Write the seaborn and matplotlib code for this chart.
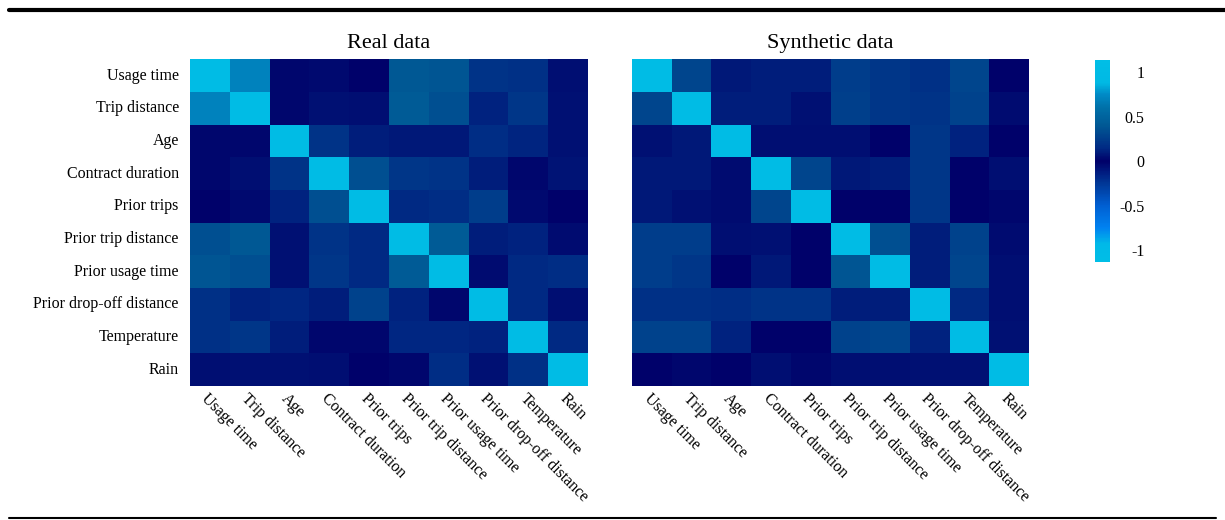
import numpy as np
import pandas as pd
import matplotlib
matplotlib.use("Agg")
import matplotlib.pyplot as plt
import seaborn as sns
from matplotlib.colors import LinearSegmentedColormap
from matplotlib.lines import Line2D

# variable names
features = ["Usage time", "Trip distance", "Age", "Contract duration", "Prior trips",
            "Prior trip distance", "Prior usage time", "Prior drop-off distance",
            "Temperature", "Rain"]

# correlation matrices
real_corr = [
    [1.00, 0.70, 0.02, 0.03, 0.00, 0.40, 0.38, 0.20, 0.18, 0.05],
    [0.70, 1.00, 0.02, 0.06, 0.05, 0.42, 0.35, 0.12, 0.22, 0.06],
    [0.02, 0.02, 1.00, 0.20, 0.10, 0.08, 0.08, 0.16, 0.13, 0.06],
    [0.02, 0.05, 0.20, 1.00, 0.35, 0.22, 0.20, 0.10, 0.02, 0.07],
    [0.00, 0.03, 0.12, 0.35, 1.00, 0.15, 0.16, 0.25, 0.03, 0.00],
    [0.35, 0.40, 0.06, 0.20, 0.15, 1.00, 0.42, 0.10, 0.12, 0.04],
    [0.38, 0.35, 0.06, 0.22, 0.15, 0.42, 1.00, 0.04, 0.15, 0.16],
    [0.18, 0.12, 0.14, 0.10, 0.28, 0.12, 0.02, 1.00, 0.15, 0.05],
    [0.18, 0.22, 0.10, 0.02, 0.02, 0.14, 0.14, 0.12, 1.00, 0.15],
    [0.05, 0.06, 0.06, 0.05, 0.00, 0.02, 0.16, 0.06, 0.18, 1.00],
]

synth_corr = [
    [1.00, 0.30, 0.08, 0.10, 0.10, 0.25, 0.22, 0.18, 0.30, 0.00],
    [0.30, 1.00, 0.10, 0.10, 0.06, 0.26, 0.22, 0.20, 0.28, 0.04],
    [0.06, 0.08, 1.00, 0.05, 0.05, 0.05, 0.00, 0.22, 0.12, 0.00],
    [0.08, 0.08, 0.04, 1.00, 0.30, 0.08, 0.10, 0.22, 0.00, 0.05],
    [0.08, 0.06, 0.04, 0.30, 1.00, 0.00, 0.00, 0.22, 0.00, 0.02],
    [0.25, 0.25, 0.05, 0.06, 0.00, 1.00, 0.35, 0.10, 0.28, 0.04],
    [0.25, 0.22, 0.00, 0.08, 0.00, 0.38, 1.00, 0.10, 0.30, 0.05],
    [0.18, 0.18, 0.16, 0.20, 0.20, 0.10, 0.10, 1.00, 0.15, 0.05],
    [0.28, 0.28, 0.12, 0.00, 0.00, 0.28, 0.30, 0.12, 1.00, 0.06],
    [0.00, 0.02, 0.00, 0.05, 0.02, 0.05, 0.05, 0.06, 0.06, 1.00],
]

cbar_ticks = [-1, -0.5, 0, 0.5, 1]
cbar_labels = ["-1", "-0.5", "0", "0.5", "1"]

real_df = pd.DataFrame(real_corr, index=features, columns=features)
synth_df = pd.DataFrame(synth_corr, index=features, columns=features)

sns.set_style("white")
plt.rcParams["font.family"] = ["Liberation Serif", "DejaVu Serif"]
plt.rcParams["text.color"] = "black"
plt.rcParams["xtick.color"] = "black"
plt.rcParams["ytick.color"] = "black"

# cyan - blue - navy - teal - cyan
vlim = 1.13
anchors = [(-1.13, (0, 190, 230)), (-0.93, (0, 185, 232)), (-0.75, (0, 130, 240)),
           (-0.5, (0, 95, 210)), (-0.25, (0, 55, 150)), (0.0, (0, 0, 105)),
           (0.15, (0, 42, 132)), (0.4, (0, 88, 148)), (0.6, (0, 112, 168)),
           (0.75, (0, 138, 198)), (0.88, (0, 185, 228)), (1.13, (0, 190, 230))]
cmap = LinearSegmentedColormap.from_list(
    "corr", [((v + vlim) / (2 * vlim), tuple(c / 255 for c in rgb)) for v, rgb in anchors])

fig = plt.figure(figsize=(12.25, 5.2), dpi=100)
ax1 = fig.add_axes([0.155, 0.258, 0.325, 0.628])
ax2 = fig.add_axes([0.516, 0.258, 0.324, 0.628])
cax = fig.add_axes([0.894, 0.496, 0.012, 0.388])

sns.heatmap(real_df, ax=ax1, cmap=cmap, vmin=-vlim, vmax=vlim, cbar=False)
sns.heatmap(synth_df, ax=ax2, cmap=cmap, vmin=-vlim, vmax=vlim, cbar=True, cbar_ax=cax,
            yticklabels=False)

for ax, title in [(ax1, "Real data"), (ax2, "Synthetic data")]:
    ax.set_title(title, fontsize=16, pad=8, color="black")
    ax.tick_params(length=0, labelsize=11.5, colors="black")
    ax.set_xticklabels(features, rotation=-45, ha="left", va="top", rotation_mode="anchor")
    ax.set_xlabel("")
    ax.set_ylabel("")
ax1.set_yticklabels(features, rotation=0)
ax1.tick_params(axis="y", pad=8)

cb = ax2.collections[0].colorbar
cb.set_ticks(cbar_ticks)
cb.set_ticklabels(cbar_labels)
cb.outline.set_visible(False)
cax.tick_params(length=0, labelsize=11.5, pad=25, colors="black")
for lab in cax.get_yticklabels():
    lab.set_horizontalalignment("right")

# rules above and below the figure
fig.add_artist(Line2D([0.007, 1.0], [0.981, 0.981], color="black", linewidth=3))
fig.add_artist(Line2D([0.007, 0.993], [0.004, 0.004], color="black", linewidth=1.5))

fig.savefig("out.png", dpi=100)
